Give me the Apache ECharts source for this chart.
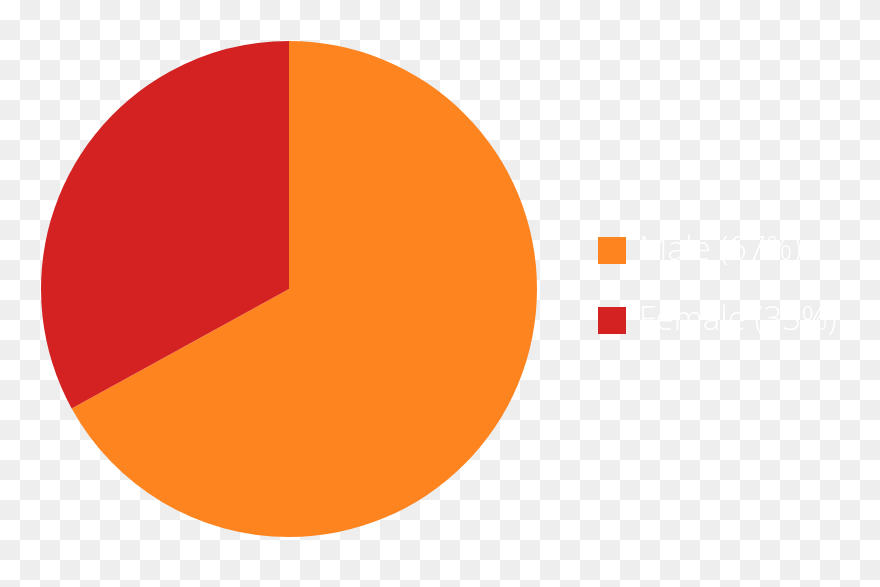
<!DOCTYPE html>
<html>
<head>
<meta charset="utf-8">
<script src="https://cdn.jsdelivr.net/npm/echarts@6/dist/echarts.min.js"></script>
<style>
  html, body { margin: 0; padding: 0; }
  body {
    width: 880px; height: 587px;
    background: repeating-conic-gradient(#eeeeee 0 25%, #ffffff 0 50%) 0 0 / 40px 40px;
  }
  #chart { width: 880px; height: 587px; }
</style>
</head>
<body>
<div id="chart"></div>
<script>
// 性别比例
const genders = ['Male', 'Female'];
const shares = [67, 33];
const colors = ['#fe8420', '#d42222'];

const chart = echarts.init(document.getElementById('chart'), null, { renderer: 'canvas' });

const pieData = genders.map((g, i) => ({
    name: g,
    value: shares[i],
    itemStyle: { color: colors[i] }
}));

const option = {
    backgroundColor: 'transparent',
    animation: false,
    legend: {
        orient: 'vertical',
        left: 593,
        top: 229,
        itemWidth: 28,
        itemHeight: 27,
        itemGap: 37,
        icon: 'rect',
        formatter: name => {
            const i = genders.indexOf(name);
            return name + ' (' + shares[i] + '%)';
        },
        textStyle: {
            color: '#ffffff',
            fontSize: 33,
            fontFamily: 'Open Sans',
            fontWeight: 300,
            padding: [0, 0, 0, 8]
        }
    },
    series: [{
        type: 'pie',
        center: [289, 289],
        radius: 248,
        startAngle: 90,
        clockwise: true,
        label: { show: false },
        labelLine: { show: false },
        itemStyle: { borderWidth: 0 },
        emphasis: { scale: false },
        data: pieData
    }]
};

chart.setOption(option);
</script>
</body>
</html>
